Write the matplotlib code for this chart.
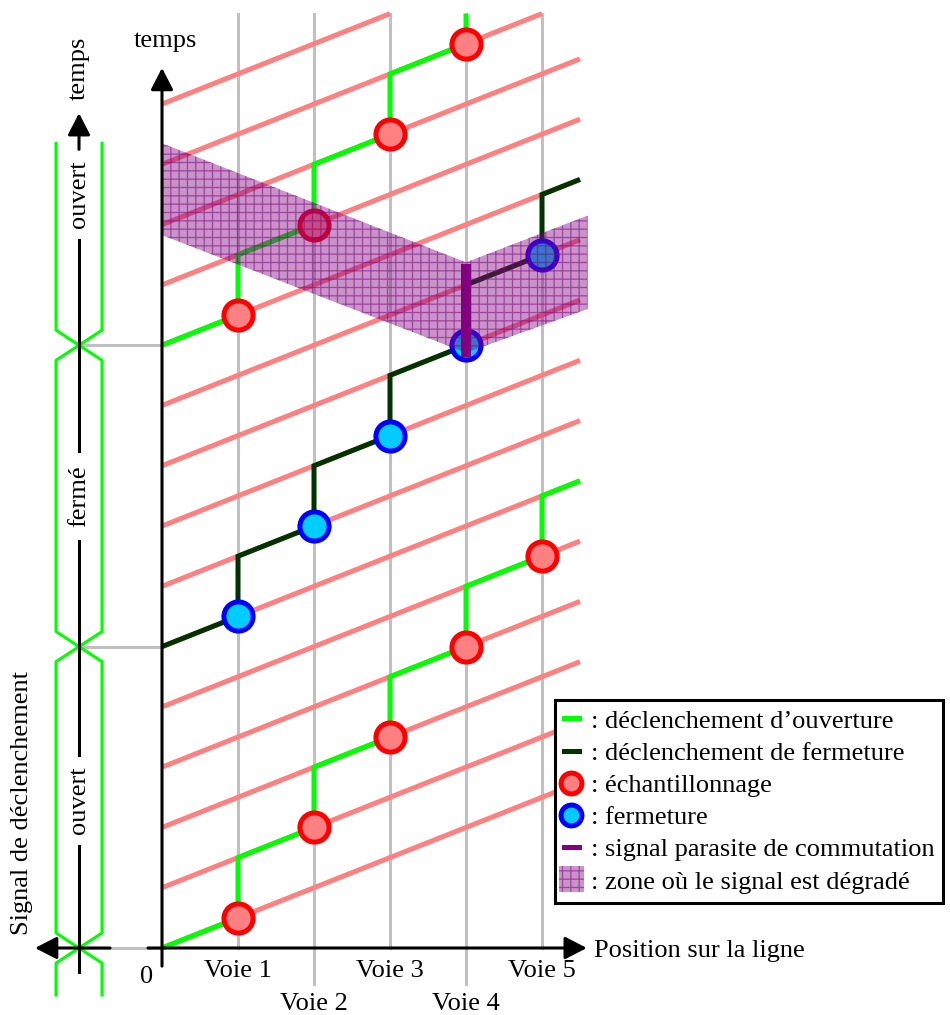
import numpy as np
import matplotlib.pyplot as plt
import matplotlib.patches as mpatches
from matplotlib.lines import Line2D
from matplotlib.legend_handler import HandlerPatch

plt.rcParams['font.family'] = 'serif'
plt.rcParams['font.serif'] = ['Liberation Serif', 'DejaVu Serif']
plt.rcParams['font.size'] = 19
plt.rcParams['hatch.linewidth'] = 0.9

# positions des voies (abscisse) et libelles
voies = [1, 2, 3, 4, 5]
voie_labels = ['Voie 1', 'Voie 2', 'Voie 3', 'Voie 4', 'Voie 5']

# droites d'echantillonnage : temps a l'origine (t = t0 + x)
echant_t0 = [0, 2, 4, 6, 8, 10, 12, 14, 16, 18, 20, 22, 24, 26, 28]
t_max = 31
x_max = 5.5

# instants d'echantillonnage sur chaque voie
ouv1_t0 = 0
ouv1_t = [1, 4, 7, 10, 13]
ouv1_fin = [(5, 15), (5.5, 15.5)]

ferm_t0 = 10
ferm_t = [11, 14, 17, 20, 23]
ferm_fin = [(5, 25), (5.5, 25.5)]

ouv2_t0 = 20
ouv2_t = [21, 24, 27, 30]
ouv2_fin = [(4, 31)]

# zone degradee
zone_x = [0, 4, 5.6]
zone_bas = [23.65, 19.75, 21.2]
zone_haut = [26.7, 22.75, 24.3]
parasite_x = 4
parasite_t = [19.6, 22.7]

# signal de declenchement (a gauche)
sig_x = -1.092
sig_w = 0.3026
transitions = [0, 10, 20]
sig_labels = ['ouvert', 'fermé', 'ouvert']
sig_label_t = [4.9, 15.0, 25.0]

ROSE = '#ff8080'
VERT = '#00ff00'
VERT_F = '#003300'
GRIS = '#c0c0c0'
POURPRE = '#800080'
ZONE_FC = (0.5, 0, 0.5, 0.42)
ZONE_EC = (0.5, 0, 0.5, 0.55)

fig = plt.figure(figsize=(9.5, 10.15), dpi=100)
ax = fig.add_axes([0, 0, 1, 1])
ax.set_xlim((0 - 162) / 76, (950 - 162) / 76)
ax.set_ylim((948 - 1015) / 30.14, 948 / 30.14)
ax.axis('off')


def chemin(t0, ts, fin):
    xs, ys = [0], [t0]
    for i, t in enumerate(ts):
        if i > 0:
            xs.append(voies[i - 1])
            ys.append(t - 1)
        xs.append(voies[i])
        ys.append(t)
    for p in fin:
        xs.append(p[0])
        ys.append(p[1])
    return xs, ys


# lignes des voies
for v in voies:
    bas = -1.2 if v % 2 == 0 else 0
    ax.plot([v, v], [bas, t_max], color=GRIS, lw=2.2, zorder=1)

# droites d'echantillonnage
for t0 in echant_t0:
    x1 = min(x_max, t_max - t0)
    ax.plot([0, x1], [t0, t0 + x1], color=ROSE, lw=3.6, zorder=2,
            solid_capstyle='butt')

# chemins de declenchement
for t0, ts, fin, col in [(ouv1_t0, ouv1_t, ouv1_fin, VERT),
                         (ferm_t0, ferm_t, ferm_fin, VERT_F),
                         (ouv2_t0, ouv2_t, ouv2_fin, VERT)]:
    xs, ys = chemin(t0, ts, fin)
    ax.plot(xs, ys, color=col, lw=3.6, zorder=3, solid_joinstyle='miter',
            solid_capstyle='butt')

ax.plot(voies[:len(ouv1_t)], ouv1_t, 'o', ms=21, mfc=ROSE, mec='red', mew=3.6, zorder=4)
ax.plot(voies[:len(ouv2_t)], ouv2_t, 'o', ms=21, mfc=ROSE, mec='red', mew=3.6, zorder=4)
ax.plot(voies[:len(ferm_t)], ferm_t, 'o', ms=21, mfc='#00ccff', mec='blue', mew=3.6, zorder=4)

# zone degradee
poly = list(zip(zone_x, zone_bas)) + list(zip(zone_x[::-1], zone_haut[::-1]))
ax.add_patch(mpatches.Polygon(poly, closed=True, facecolor=ZONE_FC,
                              edgecolor=ZONE_EC, lw=0, hatch='++', zorder=5))
ax.plot([parasite_x, parasite_x], parasite_t, color=POURPRE, lw=7.2,
        solid_capstyle='butt', zorder=6)

# axes
fleche = dict(arrowstyle='-|>,head_length=0.7,head_width=0.36', lw=2.2, color='k',
              shrinkA=0, shrinkB=0)
ax.annotate('', xy=(0, 29.2), xytext=(0, -0.6), arrowprops=fleche, zorder=7)
ax.annotate('', xy=(5.59, 0), xytext=(-0.184, 0), arrowprops=fleche, zorder=7)
ax.text(0.04, 30.1, 'temps', ha='center', va='center')
ax.text(5.68, -0.1, 'Position sur la ligne', ha='left', va='center')
ax.text(-0.2, -0.95, '0', ha='center', va='center')
for v, lab in zip(voies, voie_labels):
    ax.text(v, -0.75 if v % 2 else -1.85, lab, ha='center', va='center')

# signal de declenchement
for t in transitions:
    ax.plot([sig_x, 0], [t, t], color=GRIS, lw=2.2, zorder=1)
ax.annotate('', xy=(-1.671, 0), xytext=(-0.684, 0), arrowprops=fleche, zorder=7)

bas_env, haut_env = -1.56, 26.7
for s in [-1, 1]:
    xs, ys = [sig_x + s * sig_w], [bas_env]
    cote = s
    for t in transitions:
        xs += [sig_x + cote * sig_w, sig_x - cote * sig_w]
        ys += [t - 0.5, t + 0.5]
        cote = -cote
    xs.append(sig_x + cote * sig_w)
    ys.append(haut_env)
    ax.plot(xs, ys, color=VERT, lw=2.2, zorder=3)

# axe temps du signal, interrompu aux libelles
bornes = [-0.8]
for tl in sig_label_t:
    bornes += [tl - 1.5, tl + 1.5]
for i in range(0, len(bornes) - 1, 2):
    ax.plot([sig_x, sig_x], [bornes[i], bornes[i + 1]], color='k', lw=2.2, zorder=3)
ax.annotate('', xy=(sig_x, 27.7), xytext=(sig_x, bornes[-1]), arrowprops=fleche, zorder=7)
for tl, lab in zip(sig_label_t, sig_labels):
    ax.text(sig_x, tl, lab, rotation=90, ha='center', va='center')
ax.text(sig_x, 29.2, 'temps', rotation=90, ha='center', va='center')
ax.text(-1.84, 4.8, 'Signal de déclenchement', rotation=90, ha='center', va='center')


# legende
def carre(legend, orig_handle, xdescent, ydescent, width, height, fontsize):
    s = height * 1.4
    return mpatches.Rectangle((width / 2 - s / 2 - xdescent, height / 2 - s / 2 - ydescent), s, s)


handles = [
    Line2D([], [], color=VERT, lw=3.6),
    Line2D([], [], color=VERT_F, lw=3.6),
    Line2D([], [], ls='', marker='o', ms=15, mfc=ROSE, mec='red', mew=3.6),
    Line2D([], [], ls='', marker='o', ms=15, mfc='#00ccff', mec='blue', mew=3.6),
    Line2D([], [], color=POURPRE, lw=3.6),
    mpatches.Patch(facecolor=ZONE_FC, edgecolor=ZONE_EC, lw=0, hatch='++'),
]
labels = [': déclenchement d’ouverture', ': déclenchement de fermeture', ': échantillonnage',
          ': fermeture', ': signal parasite de commutation', ': zone où le signal est dégradé']
leg = ax.legend(handles, labels, loc='upper left', bbox_to_anchor=(555 / 950, 1 - 700 / 1015),
                bbox_transform=fig.transFigure, borderaxespad=0, handlelength=0.55,
                handletextpad=0.45, borderpad=0.35, labelspacing=0.33, fancybox=False,
                edgecolor='k', framealpha=1, handler_map={mpatches.Patch: HandlerPatch(patch_func=carre)})
leg.get_frame().set_linewidth(2.2)
leg.set_zorder(10)

fig.savefig('out.png', dpi=100)
